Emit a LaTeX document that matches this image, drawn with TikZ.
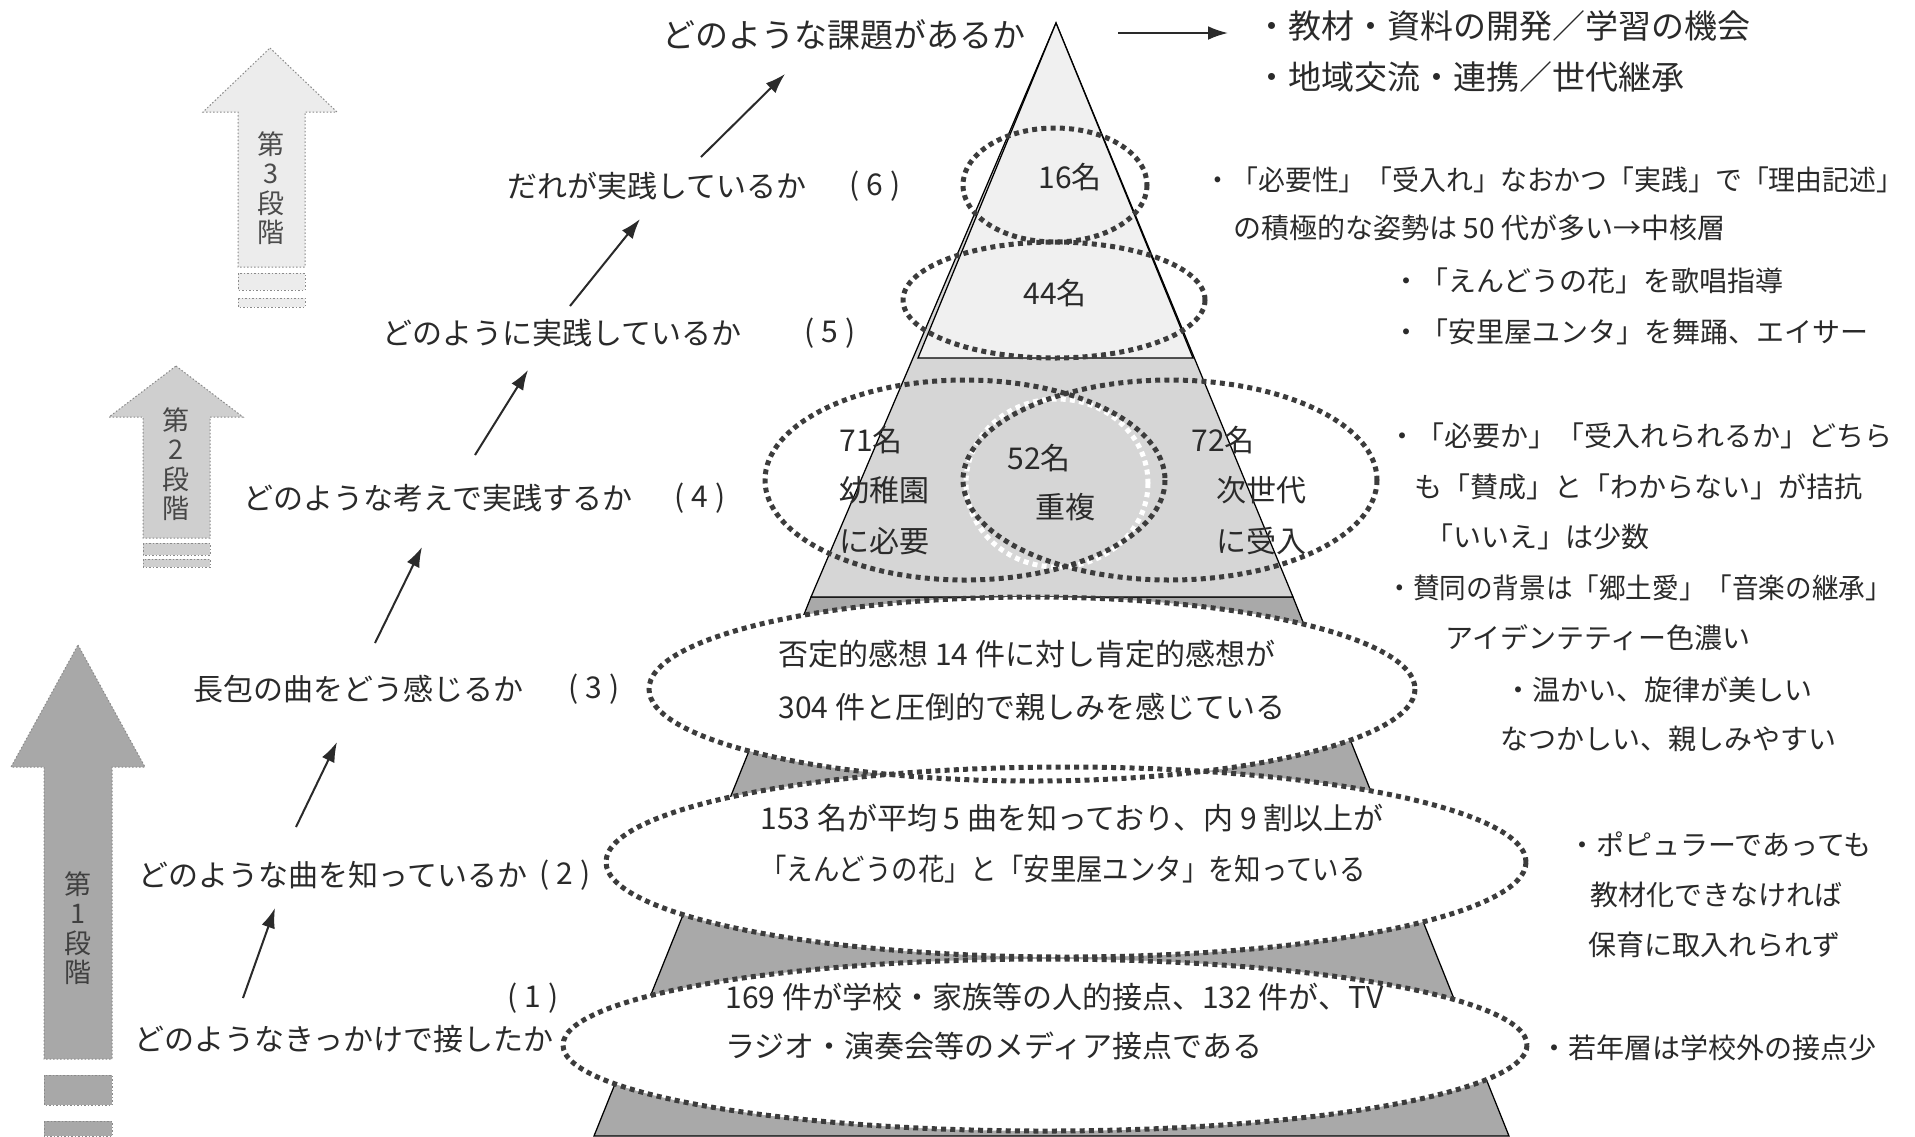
\documentclass[tikz,border=0pt]{standalone}
\usepackage{fontspec}
\usepackage{graphicx}
\setmainfont{Noto Sans CJK JP}
\usetikzlibrary{arrows.meta}
\definecolor{txt}{HTML}{2A2A2A}
\definecolor{dotc}{HTML}{3C3C3C}
\definecolor{lightband}{HTML}{F0F0F0}
\definecolor{midband}{HTML}{D6D6D6}
\definecolor{darkband}{HTML}{A9A9A9}
\definecolor{stageA}{HTML}{A8A8A8}
\definecolor{stageB}{HTML}{CFCFCF}
\definecolor{stageC}{HTML}{ECECEC}
\definecolor{stageline}{HTML}{8A8A8A}
\begin{document}
\begin{tikzpicture}[x=0.4pt,y=-0.4pt,
  qtext/.style={anchor=west,inner sep=0pt,text=txt,font=\fontsize{12pt}{14pt}\selectfont},
  num/.style={inner sep=0pt,text=txt,font=\fontsize{12pt}{14pt}\selectfont},
  note/.style={anchor=west,inner sep=0pt,text=txt,font=\fontsize{11.2pt}{13pt}\selectfont},
  big/.style={anchor=west,inner sep=0pt,text=txt,font=\fontsize{13.2pt}{15pt}\selectfont},
  ptext/.style={inner sep=0pt,text=txt,font=\fontsize{12pt}{14pt}\selectfont},
  pleft/.style={ptext,anchor=west},
  dotline/.style={draw=dotc,line width=2pt,dash pattern=on 2pt off 1.7pt},
  whitedots/.style={draw=white,line width=2pt,dash pattern=on 2pt off 1.7pt},
  arr/.style={draw=txt,line width=0.8pt,-{Latex[length=8pt,width=5.5pt]}},
  stagebox/.style={draw=stageline,line width=0.4pt,dash pattern=on 0.6pt off 0.8pt},
  stagetext/.style={inner sep=0pt,align=center,font=\fontsize{10.8pt}{11.8pt}\selectfont},
  band/.style={draw=black,line width=0.5pt}
]
\useasboundingbox[fill=white] (0,0) rectangle (1915,1136);

% ---------- stage arrows ----------
\filldraw[stagebox,fill=stageC] (270,48) -- (337,112) -- (305,112) -- (305,267) -- (238,267) -- (238,112) -- (203,112) -- cycle;
\filldraw[stagebox,fill=stageC] (238,273) rectangle (305,290);
\filldraw[stagebox,fill=stageC] (238,298) rectangle (305,307);
\node[stagetext,text=black!70] (s3) at (271,188) {第\\3\\段\\階};

\filldraw[stagebox,fill=stageB] (176,366) -- (243,417) -- (210,417) -- (210,538) -- (143,538) -- (143,417) -- (109,417) -- cycle;
\filldraw[stagebox,fill=stageB] (143,543) rectangle (210,555);
\filldraw[stagebox,fill=stageB] (143,559) rectangle (210,567);
\node[stagetext,text=black!72] (s2) at (176,464) {第\\2\\段\\階};

\filldraw[stagebox,fill=stageA] (78,645) -- (145,767) -- (112,767) -- (112,1059) -- (44,1059) -- (44,767) -- (11,767) -- cycle;
\filldraw[stagebox,fill=stageA] (44,1075) rectangle (112,1105);
\filldraw[stagebox,fill=stageA] (44,1121) rectangle (112,1136);
\node[stagetext,text=black!75] (s1) at (78,928) {第\\1\\段\\階};

% ---------- pyramid ----------
\filldraw[band,fill=darkband] (811,597) -- (1293,597) -- (1509,1136) -- (594,1136) -- cycle;
\filldraw[band,fill=midband] (1056,23) -- (1293,597) -- (811,597) -- cycle;
\filldraw[band,fill=lightband] (1056,23) -- (1193,358) -- (918,358) -- cycle;

% white-filled ellipses
\fill[white] (1032,689) ellipse [x radius=383, y radius=92];
\fill[white] (1066,862) ellipse [x radius=460, y radius=95];
\fill[white] (1045,1045) ellipse [x radius=482, y radius=86];
\draw[dotline] (1032,689) ellipse [x radius=383, y radius=92];
\draw[dotline] (1066,862) ellipse [x radius=460, y radius=95];
\draw[dotline] (1045,1045) ellipse [x radius=482, y radius=86];

% venn
\draw[whitedots] (1057,483) ellipse [x radius=91, y radius=84];
\draw[dotline] (965,480) ellipse [x radius=200, y radius=100];
\draw[dotline] (1170,480) ellipse [x radius=207, y radius=100];

% top ellipses
\draw[dotline] (1055,185) ellipse [x radius=92, y radius=57];
\draw[dotline] (1054,300) ellipse [x radius=151, y radius=58];

% ---------- pyramid texts ----------
\node[ptext] (t16) at (1070,177) {16名};
\node[ptext] (t44) at (1055,293) {44名};
\node[pleft] (t71a) at (839,440) {71名};
\node[pleft] (t71b) at (839,490) {幼稚園};
\node[pleft] (t71c) at (839,541) {に必要};
\node[ptext] (t52a) at (1039,458) {52名};
\node[ptext] (t52b) at (1065,507) {重複};
\node[pleft] (t72a) at (1191,440) {72名};
\node[pleft] (t72b) at (1216,490) {次世代};
\node[pleft] (t72c) at (1216,541) {に受入};

\node[pleft] (e3a) at (778,654) {否定的感想 14 件に対し肯定的感想が};
\node[pleft] (e3b) at (778,707) {304 件と圧倒的で親しみを感じている};
\node[pleft] (e2a) at (760,818) {153 名が平均 5 曲を知っており、内 9 割以上が};
\node[pleft] (e2b) at (760,869) {\scalebox{0.88}[1]{「えんどうの花」と「安里屋ユンタ」を知っている}};
\node[pleft] (e1a) at (725,997) {169 件が学校・家族等の人的接点、132 件が、TV};
\node[pleft] (e1b) at (725,1046) {ラジオ・演奏会等のメディア接点である};

% ---------- questions ----------
\node[big] (q7) at (662,35) {どのような課題があるか};
\node[qtext] (q6) at (507,186) {だれが実践しているか};
\node[num] (n6) at (875,186) {( 6 )};
\node[qtext] (q5) at (382,333) {どのように実践しているか};
\node[num] (n5) at (830,333) {( 5 )};
\node[qtext] (q4) at (243,498) {どのような考えで実践するか};
\node[num] (n4) at (700,498) {( 4 )};
\node[qtext] (q3) at (193,689) {長包の曲をどう感じるか};
\node[num] (n3) at (594,689) {( 3 )};
\node[qtext] (q2) at (138,875) {どのような曲を知っているか};
\node[num] (n2) at (565,875) {( 2 )};
\node[num] (n1) at (533,998) {( 1 )};
\node[qtext] (q1) at (134,1039) {どのようなきっかけで接したか};

% ---------- arrows ----------
\coordinate (a1s) at (243,998);  \coordinate (a1e) at (275,908);
\coordinate (a2s) at (296,827);  \coordinate (a2e) at (337,742);
\coordinate (a3s) at (375,643);  \coordinate (a3e) at (422,547);
\coordinate (a4s) at (475,455);  \coordinate (a4e) at (528,370);
\coordinate (a5s) at (570,306);  \coordinate (a5e) at (640,219);
\coordinate (a6s) at (701,157);  \coordinate (a6e) at (785,74);
\coordinate (a7s) at (1118,33);  \coordinate (a7e) at (1228,33);
\draw[arr] (a1s) -- (a1e);
\draw[arr] (a2s) -- (a2e);
\draw[arr] (a3s) -- (a3e);
\draw[arr] (a4s) -- (a4e);
\draw[arr] (a5s) -- (a5e);
\draw[arr] (a6s) -- (a6e);
\draw[arr] (a7s) -- (a7e);

% ---------- right notes ----------
\node[big] (r1) at (1255,26) {・教材・資料の開発／学習の機会};
\node[big] (r2) at (1255,77) {・地域交流・連携／世代継承};
\node[note] (r3) at (1204,180) {\scalebox{0.96}[1]{・「必要性」「受入れ」なおかつ「実践」で「理由記述」}};
\node[note] (r4) at (1233,228) {の積極的な姿勢は 50 代が多い→中核層};
\node[note] (r5) at (1392,281) {・「えんどうの花」を歌唱指導};
\node[note] (r6) at (1392,332) {・「安里屋ユンタ」を舞踊、エイサー};
\node[note] (r7) at (1388,436) {・「必要か」「受入れられるか」どちら};
\node[note] (r8) at (1414,487) {も「賛成」と「わからない」が拮抗};
\node[note] (r9) at (1425,537) {「いいえ」は少数};
\node[note] (r10) at (1386,588) {\scalebox{0.95}[1]{・賛同の背景は「郷土愛」「音楽の継承」}};
\node[note] (r11) at (1445,638) {アイデンテティー色濃い};
\node[note] (r12) at (1504,690) {・温かい、旋律が美しい};
\node[note] (r13) at (1500,739) {なつかしい、親しみやすい};
\node[note] (r14) at (1568,844) {・ポピュラーであっても};
\node[note] (r15) at (1590,895) {教材化できなければ};
\node[note] (r16) at (1588,945) {保育に取入れられず};
\node[note] (r17) at (1540,1048) {・若年層は学校外の接点少};
\end{tikzpicture}
\end{document}
